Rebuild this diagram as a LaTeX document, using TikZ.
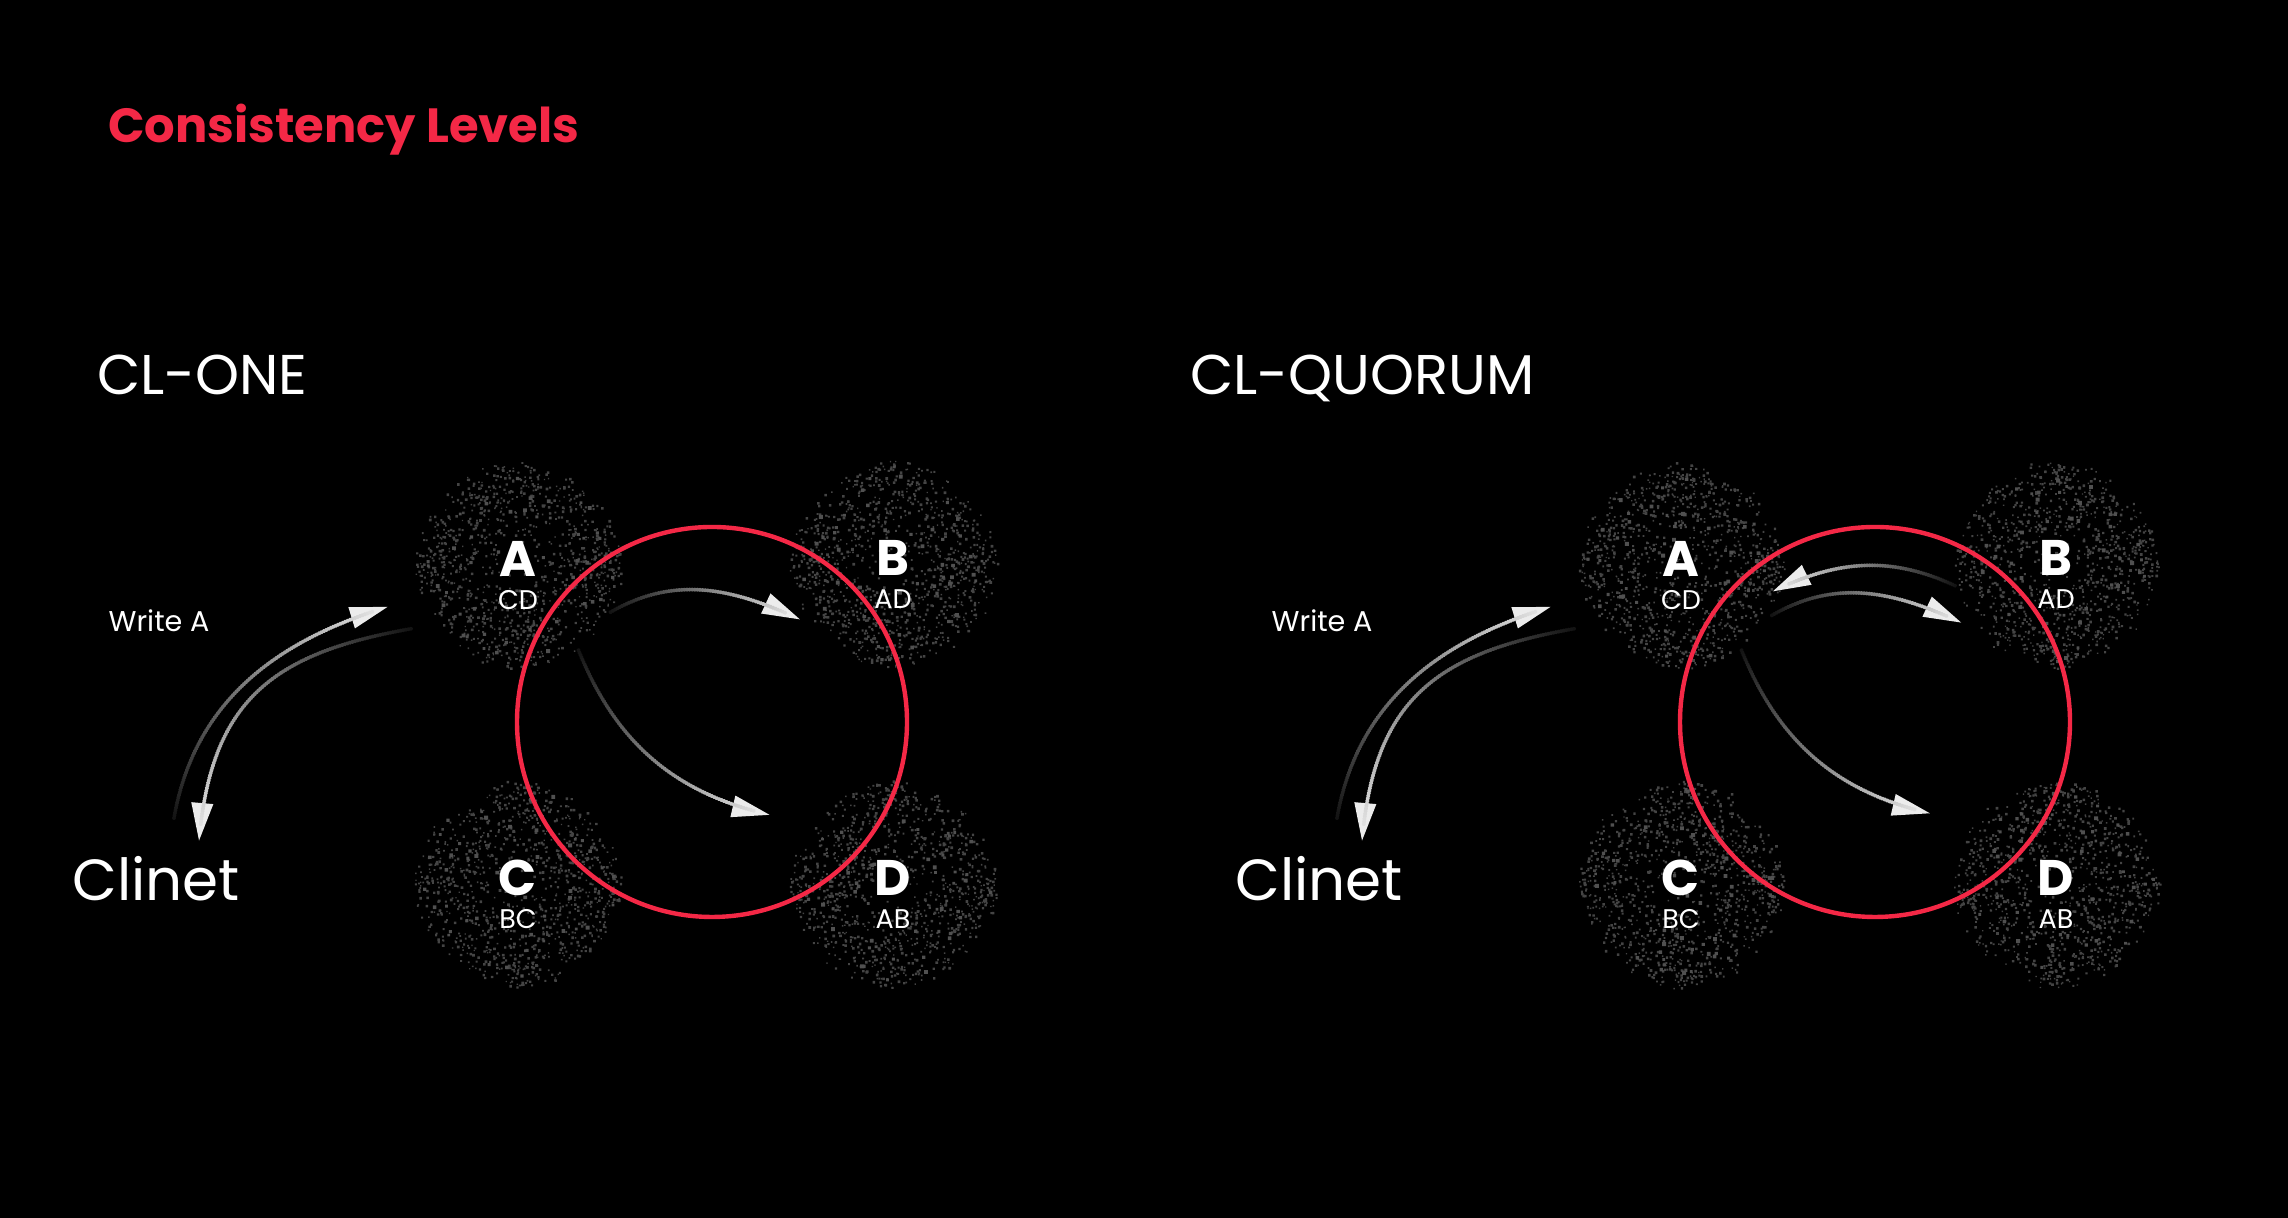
\documentclass[tikz,border=0pt]{standalone}
\usepackage{fontspec}
\setmainfont{Poppins}
\usetikzlibrary{arrows.meta,calc,decorations.markings}
\definecolor{clred}{RGB}{244,40,70}
\definecolor{dotgray}{RGB}{68,68,68}
\definecolor{dotlight}{RGB}{80,80,80}
\definecolor{arrowgray}{RGB}{236,236,236}
\tikzset{
    every node/.style={inner sep=0pt, outer sep=0pt, text=white},
    title/.style={anchor=base west, text=clred, font=\fontsize{24}{28}\selectfont\bfseries},
    heading/.style={anchor=base west, font=\fontsize{28}{32}\selectfont},
    note/.style={anchor=base, font=\fontsize{14.3}{16}\selectfont},
    client/.style={anchor=base, font=\fontsize{29}{33}\selectfont},
    ltr/.style={anchor=base, font=\fontsize{25}{30}\selectfont\bfseries},
    rep/.style={anchor=base, font=\fontsize{13.5}{15}\selectfont},
    blob/.style={circle, minimum size=103pt},
    ring/.style={circle, draw=clred, line width=2.2pt, minimum size=195pt},
    speckle/.pic={
        \foreach \j in {1,...,14} {
            \fill[dotgray] \foreach \k [evaluate=\k as \s using {1.3+1.4*rnd}] in {1,...,75}
                {({360*rnd}:{104*sqrt(rnd)}) rectangle ++(\s,\s)};
        }
        \fill[dotlight] \foreach \k [evaluate=\k as \s using {2.6+1.4*rnd}] in {1,...,50}
            {({360*rnd}:{98*sqrt(rnd)}) rectangle ++(\s,\s)};
    },
    % only the tip is stroked, the line itself is laid down as a fade of dots
    flow/.style={
        draw=arrowgray, line width=2pt, dash pattern=on 0pt off 4000pt,
        -{Triangle[length=19pt,width=10.5pt]},
        postaction={decorate},
        decoration={markings,
            mark=between positions 0 and -8pt step 1.3pt with {%
                \pgfmathsetmacro\tone{8+92*\pgfkeysvalueof{/pgf/decoration/mark info/distance from start}/\pgfdecoratedpathlength}%
                \fill[arrowgray!\tone!black] (0,0) circle[radius=1pt];}
        }
    }
}

\begin{document}
\begin{tikzpicture}[x=0.5pt,y=0.5pt]
        \pgfmathsetseed{4242}
        \useasboundingbox (0,0) rectangle (2288,1218);
        \fill[black] (0,0) rectangle (2288,1218);
        % headings
        \node[title] (title) at (108,1075) {Consistency Levels};
        \node[heading] (one) at (97,823) {CL-ONE};
        \node[heading] (quorum) at (1190,823) {CL-QUORUM};
        % servers, CL-ONE
        \node[blob] (A) at (518,651) {};
        \node[blob] (B) at (893,652) {};
        \node[blob] (C) at (518,332) {};
        \node[blob] (D) at (893,332) {};
        % servers, CL-QUORUM
        \node[blob] (qA) at (1681,651) {};
        \node[blob] (qB) at (2056,652) {};
        \node[blob] (qC) at (1681,332) {};
        \node[blob] (qD) at (2056,332) {};
        \pic at (A) {speckle};
        \pic at (B) {speckle};
        \pic at (C) {speckle};
        \pic at (D) {speckle};
        \pic at (qA) {speckle};
        \pic at (qB) {speckle};
        \pic at (qC) {speckle};
        \pic at (qD) {speckle};
        % quorum rings
        \node[ring] (ring1) at (712,496) {};
        \node[ring] (ring2) at (1875,496) {};
        % clients
        \node[note] (w1) at (159,586) {Write A};
        \node[client] (cl1) at (156,317) {Clinet};
        \node[note] (w2) at (1322,586) {Write A};
        \node[client] (cl2) at (1319,317) {Clinet};
        % replication, CL-ONE
        \draw[flow] ([shift={(18,83)}]cl1.base) to[out=80,in=197] ($(A)!1.32!(A.197)$);
        \draw[flow] ($(A)!1.2!(A.210)$) to[out=190,in=85,looseness=1.2] ([shift={(43,60)}]cl1.base);
        \draw[flow] (A.-26) to[out=30,in=155] ($(B)!1.04!(B.210)$);
        \draw[flow] (A.-54) to[out=-68,in=167] ($(D)!1.38!(D.150)$);
        % replication, CL-QUORUM
        \draw[flow] ([shift={(18,83)}]cl2.base) to[out=80,in=197] ($(qA)!1.32!(qA.197)$);
        \draw[flow] ($(qA)!1.2!(qA.210)$) to[out=190,in=85,looseness=1.2] ([shift={(43,60)}]cl2.base);
        \draw[flow] (qB.191) to[out=155,in=26] ($(qA)!0.92!(qA.-15)$);
        \draw[flow] (qA.-28) to[out=30,in=155] ($(qB)!1.07!(qB.211)$);
        \draw[flow] (qA.-54) to[out=-68,in=167] ($(qD)!1.41!(qD.150)$);
        % server labels
        \node[ltr] at ([yshift=-5pt]A.center) {A};
        \node[rep] at ([yshift=-21.5pt]A.center) {CD};
        \node[ltr] at ([yshift=-5pt]B.center) {B};
        \node[rep] at ([yshift=-21.5pt]B.center) {AD};
        \node[ltr] at ([yshift=-5pt]C.center) {C};
        \node[rep] at ([yshift=-21.5pt]C.center) {BC};
        \node[ltr] at ([yshift=-5pt]D.center) {D};
        \node[rep] at ([yshift=-21.5pt]D.center) {AB};
        \node[ltr] at ([yshift=-5pt]qA.center) {A};
        \node[rep] at ([yshift=-21.5pt]qA.center) {CD};
        \node[ltr] at ([yshift=-5pt]qB.center) {B};
        \node[rep] at ([yshift=-21.5pt]qB.center) {AD};
        \node[ltr] at ([yshift=-5pt]qC.center) {C};
        \node[rep] at ([yshift=-21.5pt]qC.center) {BC};
        \node[ltr] at ([yshift=-5pt]qD.center) {D};
        \node[rep] at ([yshift=-21.5pt]qD.center) {AB};
\end{tikzpicture}
\end{document}
